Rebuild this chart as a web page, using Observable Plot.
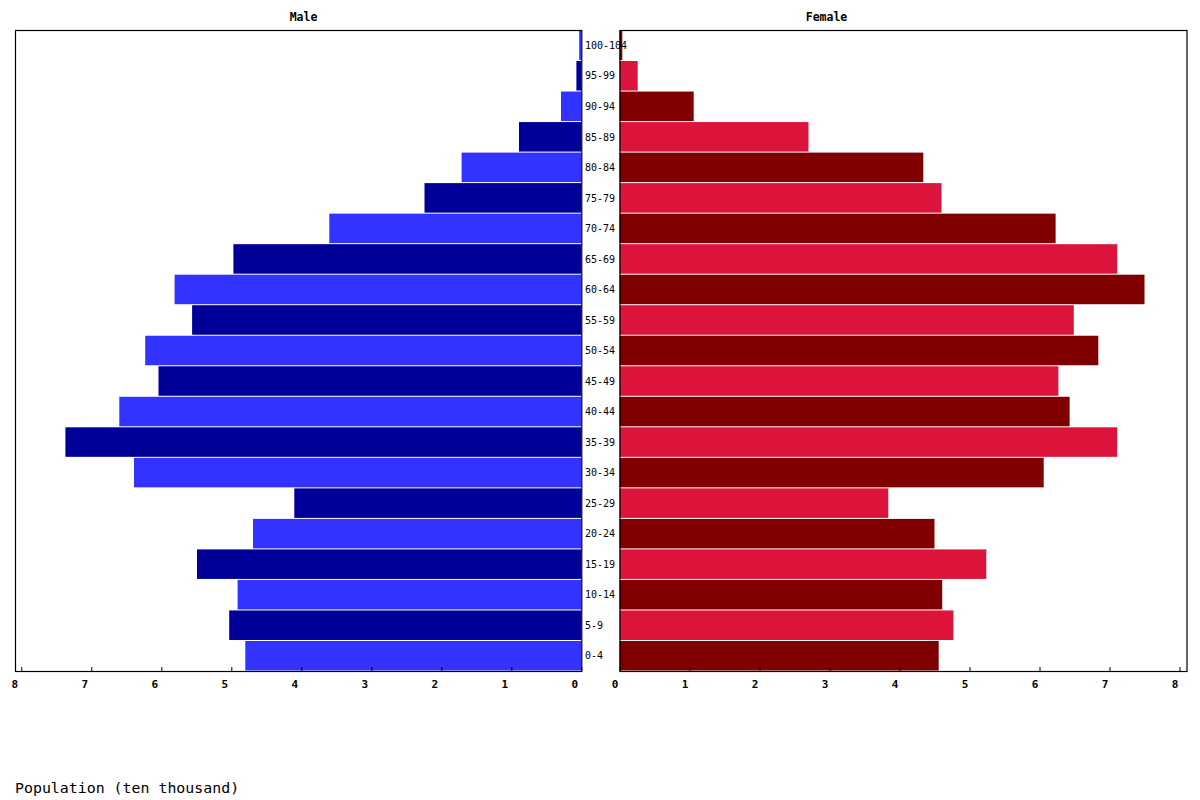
<!DOCTYPE html>
<html>
<head>
<meta charset="utf-8">
<script src="https://cdn.jsdelivr.net/npm/d3@7"></script>
<script src="https://cdn.jsdelivr.net/npm/@observablehq/plot@0.6"></script>
<style>
  html, body { margin: 0; padding: 0; background: #fff; }
  #wrap { position: relative; width: 1200px; height: 800px; overflow: hidden; background: #fff; }
  #male, #female { position: absolute; top: 0; }
  #male { left: 0; }
  #female { left: 580px; }
  #caption { position: absolute; left: 15px; top: 780px; font-family: "DejaVu Sans Mono", monospace; font-size: 14.9px; line-height: 17px; color: #000; white-space: pre; }
</style>
</head>
<body>
<div id="wrap">
  <div id="male"></div>
  <div id="female"></div>
  <div id="caption">Population (ten thousand)</div>
</div>
<script>
// Age groups (bottom to top)
const ages = ["0-4","5-9","10-14","15-19","20-24","25-29","30-34","35-39","40-44","45-49","50-54","55-59","60-64","65-69","70-74","75-79","80-84","85-89","90-94","95-99","100-104"];
// Population in ten thousands
const maleValues =   [4.80, 5.03, 4.91, 5.49, 4.69, 4.10, 6.39, 7.37, 6.60, 6.04, 6.23, 5.56, 5.81, 4.97, 3.60, 2.24, 1.71, 0.89, 0.29, 0.07, 0.03];
const femaleValues = [4.56, 4.77, 4.61, 5.24, 4.50, 3.84, 6.06, 7.11, 6.43, 6.27, 6.84, 6.49, 7.50, 7.11, 6.23, 4.60, 4.34, 2.70, 1.06, 0.26, 0.04];
const xTicks = [0, 1, 2, 3, 4, 5, 6, 7, 8];
const maleColors = ["#3333ff", "#000099"];
const femaleColors = ["#800000", "#dc143c"];
const titles = ["Male", "Female"];

const FONT = "DejaVu Sans Mono, monospace";
const H = 700;
const yDomain = ages.slice().reverse();

const maleData = ages.map((a, i) => ({age: a, value: maleValues[i], color: maleColors[i % 2]}));
const femaleData = ages.map((a, i) => ({age: a, value: femaleValues[i], color: femaleColors[i % 2]}));

const common = {
  height: H,
  marginTop: 30,
  marginBottom: 29,
  style: {background: "transparent", overflow: "visible", fontFamily: FONT, color: "#000"},
  y: {domain: yDomain, padding: 0, round: false, axis: null},
  color: {type: "identity"}
};

const male = Plot.plot({
  ...common,
  width: 582,
  marginLeft: 15,
  marginRight: 0.7,
  x: {domain: [8.09, 0], axis: null},
  marks: [
    Plot.barX(maleData, {x: "value", y: "age", fill: "color", insetTop: 0.5, insetBottom: 0.5}),
    Plot.frame({stroke: "#000", strokeWidth: 1.2}),
    Plot.axisX({ticks: xTicks, tickSize: -4, tickFormat: () => "", label: null, stroke: "#000"}),
    Plot.axisX({ticks: xTicks, tickSize: 0, tickPadding: 9, label: null, dx: -7, fontSize: 11, fontWeight: "bold", fontFamily: FONT, fill: "#000"}),
    Plot.text([titles[0]], {frameAnchor: "top-left", dx: 288, dy: -13, textAnchor: "middle", lineAnchor: "middle", fontSize: 11.5, fontWeight: "bold", fontFamily: FONT, fill: "#000"})
  ]
});

const female = Plot.plot({
  ...common,
  width: 620,
  marginLeft: 39.5,
  marginRight: 13.5,
  x: {domain: [0, 8.1], axis: null},
  marks: [
    Plot.barX(femaleData, {x: "value", y: "age", fill: "color", insetTop: 0.5, insetBottom: 0.5}),
    Plot.frame({stroke: "#000", strokeWidth: 1.2}),
    Plot.axisX({ticks: xTicks, tickSize: -4, tickFormat: () => "", label: null, stroke: "#000"}),
    Plot.axisX({ticks: xTicks, tickSize: 0, tickPadding: 9, label: null, dx: -5, fontSize: 11, fontWeight: "bold", fontFamily: FONT, fill: "#000"}),
    Plot.text(femaleData, {x: () => 0, y: "age", text: "age", dx: -35, textAnchor: "start", fontSize: 10, fontFamily: FONT, fill: "#000"}),
    Plot.text([titles[1]], {frameAnchor: "top-left", dx: 206.5, dy: -13, textAnchor: "middle", lineAnchor: "middle", fontSize: 11.5, fontWeight: "bold", fontFamily: FONT, fill: "#000"})
  ]
});

document.getElementById("male").appendChild(male);
document.getElementById("female").appendChild(female);
</script>
</body>
</html>
